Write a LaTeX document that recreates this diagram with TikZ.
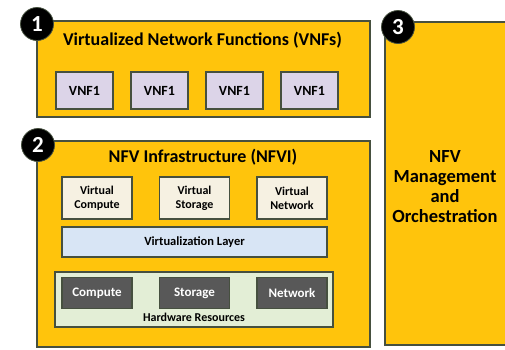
\documentclass[tikz,border=0pt]{standalone}
\usepackage{fontspec}
\setmainfont{Carlito}
\usepackage{xcolor}
\usetikzlibrary{positioning}
\usetikzlibrary{math}

\definecolor{gold}{HTML}{FFC40C}
\definecolor{edge}{HTML}{46503F}
\definecolor{lavender}{HTML}{DCD4E8}
\definecolor{cream}{HTML}{F6F1E2}
\definecolor{skyblue}{HTML}{D8E5F5}
\definecolor{palegreen}{HTML}{E3EED6}
\definecolor{slate}{HTML}{585858}

\tikzset{
  panel/.style={draw=edge, line width=1.4pt, fill=gold, inner sep=0pt},
  vnfbox/.style={draw=edge, line width=1.2pt, fill=lavender, minimum width=57pt,
    minimum height=37pt, font=\bfseries\fontsize{14}{16}\selectfont},
  virtbox/.style={draw=edge, line width=1.2pt, fill=cream, minimum width=70pt,
    minimum height=42pt, inner sep=1pt, align=center, font=\bfseries\fontsize{12}{14}\selectfont},
  hwbox/.style={draw=edge, line width=1.2pt, fill=slate, text=white, minimum width=70pt,
    minimum height=31pt, font=\bfseries\fontsize{13}{15}\selectfont},
  badge/.style={circle, fill=black, draw=edge, line width=0.8pt, text=white,
    minimum size=33pt, inner sep=0pt, font=\bfseries\fontsize{23}{23}\selectfont},
  heading/.style={font=\bfseries\fontsize{18}{21}\selectfont}
}

\begin{document}
\begin{tikzpicture}[x=1pt,y=-1pt]

  \tikzmath{
    \vnfstep  = 75;   % distance between the VNF boxes
    \colstep  = 97.5; % distance between the columns of NFVI
  }

  \useasboundingbox (0,0) rectangle (505,349);
  \clip (0,0) rectangle (505,349);

  % Virtualized network functions
  \node[panel, minimum width=333pt, minimum height=96pt] (vnfs) at (203.5,69) {};
  \node[heading] (vnfstitle) at (202.5,40) {Virtualized Network Functions (VNFs)};
  \foreach \i in {0,...,3}
    \node[vnfbox] (vnf\i) at ({84.5+\i*\vnfstep},90.5) {VNF1};

  % NFV infrastructure
  \node[panel, minimum width=333pt, minimum height=206pt] (nfvi) at (203.5,244) {};
  \node[heading] (nfvititle) at (203,157) {NFV Infrastructure (NFVI)};

  \node[virtbox] (vcompute) at (97,198) {Virtual\\Compute};
  \node[virtbox] (vstorage) at ({97+\colstep},198) {Virtual\\Storage};
  \node[virtbox] (vnetwork) at ({97+2*\colstep},198) {Virtual\\Network};

  \node[draw=edge, line width=1.2pt, fill=skyblue, minimum width=265pt, minimum height=30pt,
    font=\bfseries\fontsize{12.5}{14}\selectfont] (virtlayer) at (194.5,242) {Virtualization Layer};

  % Hardware resources
  \node[draw=edge, line width=1.2pt, fill=palegreen, minimum width=278pt,
    minimum height=55pt] (hardware) at (194,299.5) {};
  \node[font=\bfseries\fontsize{12}{14}\selectfont] (hwtitle) at (194,317.5) {Hardware Resources};
  \node[hwbox] (compute) at (97,293) {Compute};
  \node[hwbox] (storage) at ({97+\colstep},293) {Storage};
  \node[hwbox] (network) at ({97+2*\colstep},293) {Network};

  % Management and orchestration
  \node[panel, minimum width=135pt, minimum height=323pt] (mano) at (452.5,183.5) {};
  \node[align=center, font=\bfseries\fontsize{18.5}{20}\selectfont] (manotext) at (445,187)
    {NFV\\Management\\and\\Orchestration};

  % numbered badges
  \node[badge] (one)   at (37,24)  {1};
  \node[badge] (two)   at (38,145) {2};
  \node[badge] (three) at (398,27) {3};

\end{tikzpicture}
\end{document}
